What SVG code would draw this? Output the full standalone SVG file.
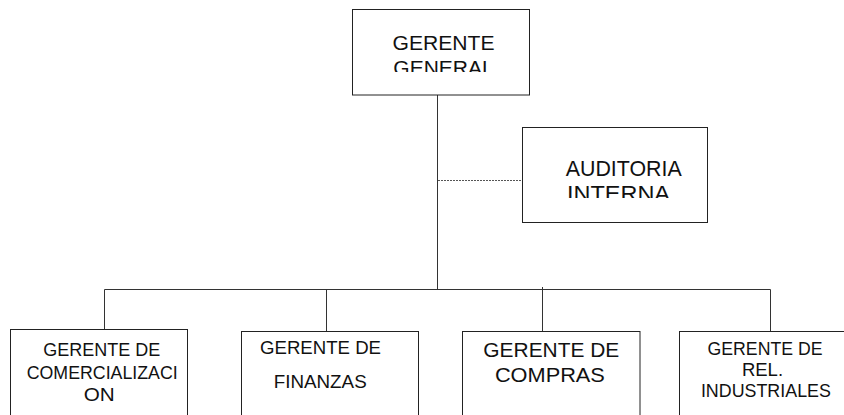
<svg xmlns="http://www.w3.org/2000/svg" width="844" height="415" viewBox="0 0 844 415">
<defs>
<style>
.box{fill:#ffffff;stroke:#222222;stroke-width:1}
.ln{fill:none;stroke:#333333;stroke-width:1}
.dash{fill:none;stroke:#555555;stroke-width:1;stroke-dasharray:2 1}
.t{font-family:"Liberation Sans",Arial,sans-serif;fill:#111111;text-anchor:middle}
</style>
<clipPath id="clipTop"><rect x="353" y="10" width="176" height="62"/></clipPath>
<clipPath id="clipAud"><rect x="523" y="128" width="184" height="70"/></clipPath>
</defs>
<rect x="0" y="0" width="844" height="415" fill="#ffffff"/>
<g id="connectors">
<line class="ln" x1="437.5" y1="95" x2="437.5" y2="289.5"/>
<line class="ln" x1="104.5" y1="289.5" x2="770.5" y2="289.5"/>
<line class="ln" x1="104.5" y1="289.5" x2="104.5" y2="329.5"/>
<line class="ln" x1="326.5" y1="289.5" x2="326.5" y2="331.5"/>
<line class="ln" x1="542.5" y1="287" x2="542.5" y2="331.5"/>
<line class="ln" x1="770.5" y1="289.5" x2="770.5" y2="331"/>
<line class="dash" x1="438" y1="180.5" x2="526" y2="180.5"/>
</g>
<g id="gerente-general">
<rect class="box" x="352.5" y="9.5" width="177" height="85.5"/>
<g clip-path="url(#clipTop)">
<text class="t" x="443.5" y="50" font-size="21" textLength="102" lengthAdjust="spacingAndGlyphs">GERENTE</text>
<text class="t" x="443.5" y="75" font-size="21">GENERAL</text>
</g>
</g>
<g id="auditoria-interna">
<rect class="box" x="522.5" y="127.5" width="185" height="95"/>
<g clip-path="url(#clipAud)">
<text class="t" x="623.7" y="176" font-size="21.5" textLength="116" lengthAdjust="spacingAndGlyphs">AUDITORIA</text>
<text class="t" x="618.5" y="201" font-size="22" textLength="103" lengthAdjust="spacingAndGlyphs">INTERNA</text>
</g>
</g>
<g id="gerente-comercializacion">
<rect class="box" x="10.5" y="329.5" width="177" height="100"/>
<text class="t" x="101.8" y="356" font-size="19" textLength="117" lengthAdjust="spacingAndGlyphs">GERENTE DE</text>
<text class="t" x="102.2" y="379.3" font-size="19" textLength="151" lengthAdjust="spacingAndGlyphs">COMERCIALIZACI</text>
<text class="t" x="99.3" y="400.7" font-size="19" textLength="31" lengthAdjust="spacingAndGlyphs">ON</text>
</g>
<g id="gerente-finanzas">
<rect class="box" x="241.5" y="331.5" width="177" height="100"/>
<text class="t" x="320.5" y="354" font-size="17.5" textLength="121" lengthAdjust="spacingAndGlyphs">GERENTE DE</text>
<text class="t" x="320.2" y="388.3" font-size="17.5" textLength="93" lengthAdjust="spacingAndGlyphs">FINANZAS</text>
</g>
<g id="gerente-compras">
<rect class="box" x="462.5" y="331.5" width="177.5" height="100"/>
<text class="t" x="551.3" y="357.3" font-size="21" textLength="136" lengthAdjust="spacingAndGlyphs">GERENTE DE</text>
<text class="t" x="549.9" y="381.7" font-size="21" textLength="110" lengthAdjust="spacingAndGlyphs">COMPRAS</text>
</g>
<g id="gerente-rel-industriales">
<rect class="box" x="679.5" y="331.5" width="180" height="100"/>
<text class="t" x="765" y="355" font-size="18.5" textLength="115" lengthAdjust="spacingAndGlyphs">GERENTE DE</text>
<text class="t" x="762.5" y="376" font-size="18.5">REL.</text>
<text class="t" x="765.9" y="397.3" font-size="18.5" textLength="130" lengthAdjust="spacingAndGlyphs">INDUSTRIALES</text>
</g>
</svg>
